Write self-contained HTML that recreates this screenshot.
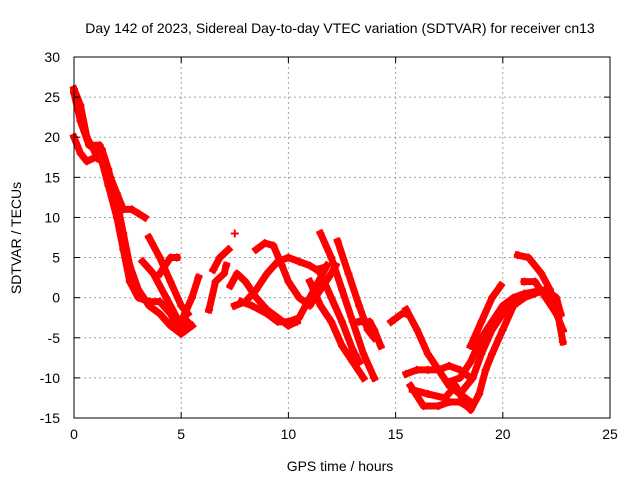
<!DOCTYPE html>
<html><head><meta charset="utf-8"><style>
body{margin:0;background:#fff}
svg{display:block;font-family:"Liberation Sans",sans-serif}
</style></head><body>
<svg id="chart" width="640" height="480">
<text x="340" y="33" font-size="14" text-anchor="middle">Day 142 of 2023, Sidereal Day-to-day VTEC variation (SDTVAR) for receiver cn13</text>
<text x="340" y="471" font-size="14" text-anchor="middle">GPS time / hours</text>
<text transform="translate(21,238) rotate(-90)" font-size="14" text-anchor="middle">SDTVAR / TECUs</text>
<g id="grid"></g>
<g id="series"></g>
<rect x="74" y="57" width="536" height="361" fill="none" stroke="#000" stroke-width="1"/>
<g id="ticks"></g>
</svg>
<script>
const xTicks=[0,5,10,15,20,25];
const yTicks=[-15,-10,-5,0,5,10,15,20,25,30];
const track1=[[0,26],[0.3,24],[0.6,20],[1,18],[1.3,18.5],[1.6,16],[2,12],[2.3,8],[2.6,4],[3,1],[3.5,-1],[4,-2],[4.5,-3.5],[5,-4.5],[5.5,-3.5]];
const track2=[[0,20],[0.3,18],[0.6,17],[1,17.5],[1.3,17],[1.6,14],[2,10],[2.3,6],[2.6,2],[3,0],[3.5,-0.5],[4,-0.5],[4.5,-2],[4.9,-4],[5.3,-3]];
const track3=[[0,25.5],[0.3,22],[0.7,19],[1.2,19],[1.7,15],[2,13],[2.3,11],[2.7,11],[3,10.5],[3.3,10]];
const track4=[[3.5,7.5],[4,5],[4.5,2],[5,-1],[5.3,-2]];
const track5=[[3.2,4.5],[3.7,3],[4.3,0],[4.8,-2.5],[5,-3]];
const track6=[[4,3],[4.5,5],[4.8,5]];
const track7=[[5,-3],[5.5,0],[5.8,2.5]];
const track8=[[6.3,-1.5],[6.6,2],[7,3],[7.1,4]];
const track9=[[6.5,3.5],[6.8,5],[7.2,6]];
const track10=[[7.3,1.5],[7.6,3],[8,2],[8.5,0],[9,-1.5],[9.5,-2.5],[10,-3.5],[10.4,-3]];
const track11=[[7.5,-1],[8,-0.5],[8.5,1],[9,3],[9.5,4.5],[10,5],[10.5,4.5],[11,4],[11.3,3.5],[11.7,3.8]];
const track12=[[8.5,6],[8.9,6.8],[9.3,6.5],[9.7,4],[10,2],[10.5,0],[11,-1],[11.5,1],[12,3],[12.2,4]];
const track13=[[7.8,-0.5],[8.3,-1],[9,-2],[9.5,-3],[10,-3],[10.5,-2.5],[11,0],[11.4,2],[11.8,4]];
const track14=[[11.5,8],[12,5],[12.5,1],[13,-3],[13.5,-7],[14,-10]];
const track15=[[12.3,7],[12.8,3],[13.3,-1],[13.7,-4],[14,-5]];
const track16=[[11.5,3],[12,0],[12.5,-3],[13,-6.5],[13.3,-8]];
const track17=[[11,2],[11.5,-1],[12,-3],[12.5,-6],[13,-8],[13.5,-10]];
const track18=[[13.3,-3],[13.8,-3],[14,-4],[14.3,-6]];
const track19=[[14.8,-3],[15.3,-2],[15.5,-2]];
const track20=[[15.5,-1.5],[16,-4],[16.5,-7],[17,-9],[17.5,-11],[18,-12],[18.5,-13]];
const track21=[[15.5,-9.5],[16,-9],[16.5,-9],[17,-9],[17.5,-8.5],[18,-9],[18.5,-10]];
const track22=[[15.7,-11],[16.3,-13.5],[17,-13.5],[17.5,-13],[18,-13],[18.3,-13.5]];
const track23=[[15.8,-11.5],[16.5,-12],[17.3,-12.5],[17.8,-11],[18.2,-13],[18.5,-14],[18.9,-12],[19.2,-9],[19.5,-7],[20,-4],[20.5,-1],[21,0],[21.5,0.5],[22,1],[22.5,0],[22.7,-2]];
const track24=[[17.5,-10.5],[18,-10],[18.5,-8],[19,-5],[19.5,-3],[20,-1],[20.5,0],[21,0.5],[22,1]];
const track25=[[18,-12],[18.6,-10],[19,-7],[19.5,-4],[20,-2],[20.5,-0.5]];
const track26=[[18.5,-6],[19,-3],[19.5,0],[19.9,1.5]];
const track27=[[20.7,5.3],[21.2,5],[21.8,3],[22.2,1],[22.6,-2.5],[22.8,-5.5]];
const track28=[[21,2],[21.5,2],[22,0],[22.5,-2],[22.8,-4]];
const track29=[[7.5,8]];
const tracks=[track1,track2,track3,track4,track5,track6,track7,track8,track9,track10,track11,track12,track13,track14,track15,track16,track17,track18,track19,track20,track21,track22,track23,track24,track25,track26,track27,track28,track29];

const NS="http://www.w3.org/2000/svg";
const X0=74,X1=610,Y0=418,Y1=57;
const sx=v=>X0+(v-0)/(25-0)*(X1-X0);
const sy=v=>Y0-(v+15)/(30+15)*(Y0-Y1);
const grid=document.getElementById('grid'),ticks=document.getElementById('ticks'),series=document.getElementById('series');
function mk(tag,attrs,parent){const e=document.createElementNS(NS,tag);for(const k in attrs)e.setAttribute(k,attrs[k]);parent.appendChild(e);return e;}
xTicks.forEach(t=>{
  const x=sx(t);
  if(t>0&&t<25){const g=mk('line',{x1:x,x2:x,y1:Y1,y2:Y0,stroke:'#a0a0a0','stroke-dasharray':'2,3'},grid);
  
  }
  mk('line',{x1:x,x2:x,y1:Y0,y2:Y0-6,stroke:'#000'},ticks);
  mk('line',{x1:x,x2:x,y1:Y1,y2:Y1+6,stroke:'#000'},ticks);
  const l=mk('text',{x:x,y:Y0+21,'font-size':14,'text-anchor':'middle'},ticks);l.textContent=t;
  
  
});
yTicks.forEach(t=>{
  const y=sy(t);
  if(t>-15&&t<30){const g=mk('line',{x1:X0,x2:X1,y1:y,y2:y,stroke:'#a0a0a0','stroke-dasharray':'2,3'},grid);
  
  }
  mk('line',{x1:X0,x2:X0+6,y1:y,y2:y,stroke:'#000'},ticks);
  mk('line',{x1:X1,x2:X1-6,y1:y,y2:y,stroke:'#000'},ticks);
  const l=mk('text',{x:X0-14,y:y+5,'font-size':14,'text-anchor':'end'},ticks);l.textContent=t;
  
  
});
tracks.forEach((tr,i)=>{
  const pts=tr.map(p=>sx(p[0])+','+sy(p[1])).join(' ');
  const pl=mk('polyline',{points:pts,fill:'none',stroke:'#ff0000','stroke-width':7,'stroke-linejoin':'round','stroke-linecap':'square'},series);
  
  
  tr.forEach(p=>{
    const x=sx(p[0]),y=sy(p[1]);
    const m=mk('path',{d:`M${x-4},${y}H${x+4}M${x},${y-4}V${y+4}`,stroke:'#ff0000','stroke-width':2},series);
    
    
  });
});
</script>
</body></html>
